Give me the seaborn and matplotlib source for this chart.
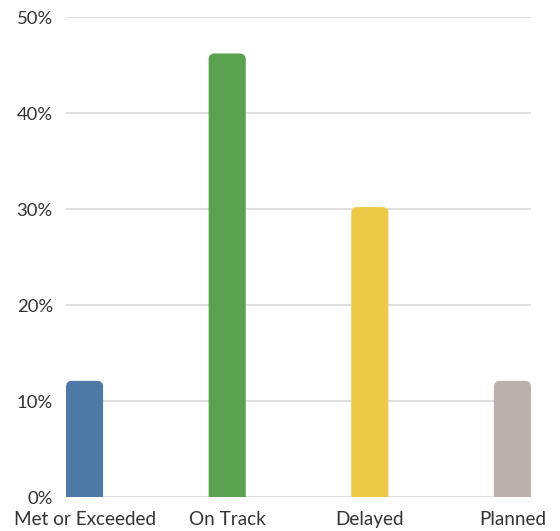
import matplotlib
matplotlib.use("Agg")
import matplotlib.pyplot as plt
import seaborn as sns
import pandas as pd
from matplotlib.patches import FancyBboxPatch
from matplotlib.ticker import FuncFormatter

categories = ["Met or Exceeded", "On Track", "Delayed", "Planned"]
values = [12.1, 46.2, 30.2, 12.1]
colors = ["#4E79A7", "#59A14F", "#EDC948", "#BAB0AC"]
yticks = [0, 10, 20, 30, 40, 50]

sns.set_theme(style="white")
plt.rcParams["font.family"] = ["Lato", "DejaVu Sans"]

df = pd.DataFrame({"cat": categories, "val": values})
fig = plt.figure(figsize=(5.6, 5.31), dpi=100)
ax = fig.add_axes([66 / 560, 34 / 531, 465 / 560, 480 / 531])

bw = 0.26
sns.barplot(data=df, x="cat", y="val", hue="cat", palette=colors, legend=False,
            width=bw, ax=ax, zorder=3, saturation=1)

ax.set_xlim(-bw / 2, len(categories) - 1 + bw / 2)
ax.set_ylim(0, 50)
ax.set_yticks(yticks)
ax.yaxis.set_major_formatter(FuncFormatter(lambda v, p: f"{int(v)}%"))
ax.grid(axis="y", color="#d9d9d9", linewidth=1.2, zorder=0)
ax.grid(axis="x", visible=False)
for s in ax.spines.values():
    s.set_visible(False)
ax.tick_params(axis="both", length=0, colors="#333333")
ax.tick_params(axis="y", pad=9.4, labelsize=13.3)
ax.tick_params(axis="x", pad=10, labelsize=13.6)
ax.set_xlabel("")
ax.set_ylabel("")

# rounded top corners
px_x = 465 / (len(categories) - 1 + bw)
px_y = 480 / 50
r_px = 6
for p in list(ax.patches):
    x0, w, h = p.get_x(), p.get_width(), p.get_height()
    fc = p.get_facecolor()
    p.remove()
    rx = r_px / px_x
    ext = r_px / px_y
    fb = FancyBboxPatch((x0 + rx, -2 * ext), w - 2 * rx, h + 2 * ext - ext,
                        boxstyle=f"round,pad={rx},rounding_size={rx}",
                        mutation_aspect=px_x / px_y,
                        facecolor=fc, edgecolor="none", zorder=3)
    ax.add_patch(fb)

fig.savefig("out.png", dpi=100)
